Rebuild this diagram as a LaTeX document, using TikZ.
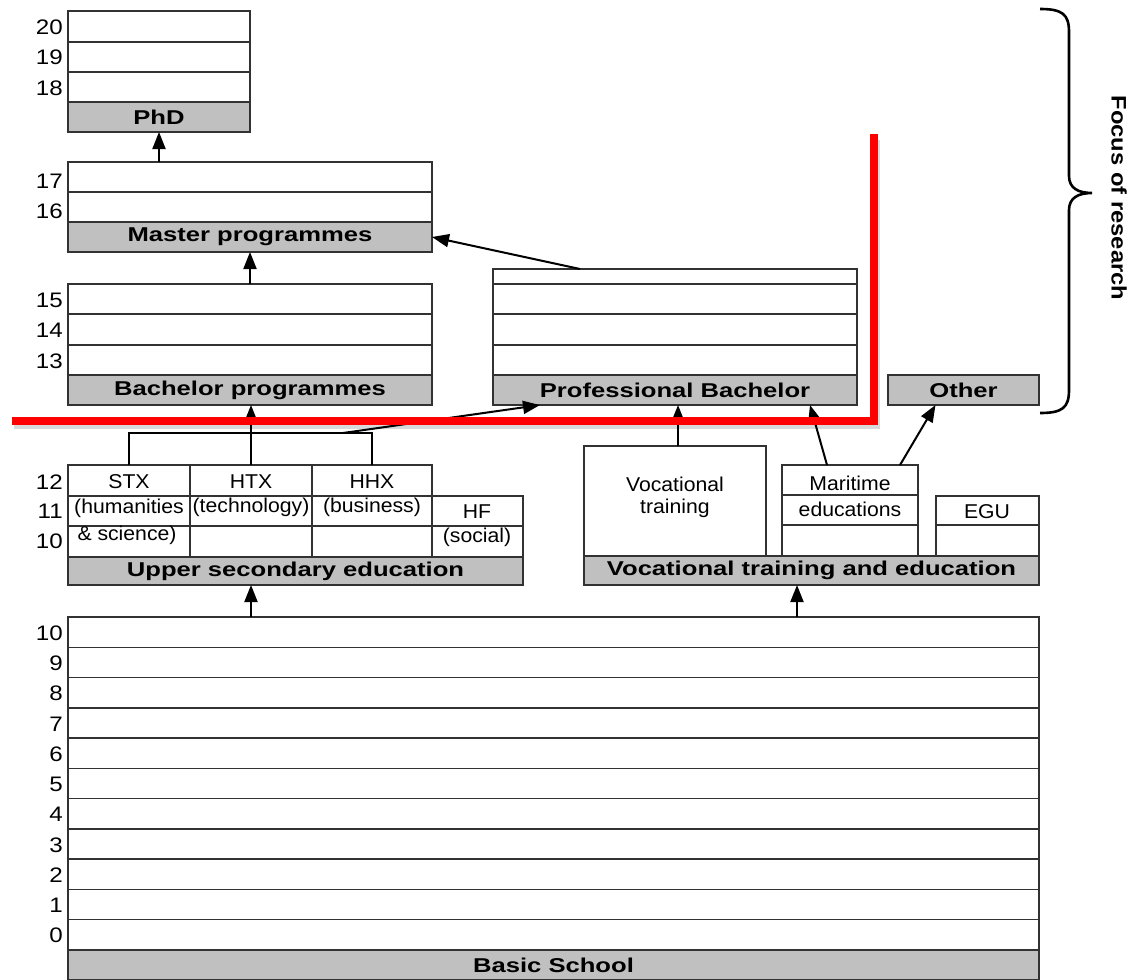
\documentclass[tikz,border=0pt]{standalone}
\usepackage{fontspec}
\setmainfont{Liberation Sans}[FakeStretch=1.06]
\newfontfamily\widebold{Liberation Sans}[FakeStretch=1.28]
\newfontfamily\yearfont{Liberation Sans}[FakeStretch=1.15]
\newfontfamily\focusfont{Liberation Sans}[FakeStretch=1.13]
\usetikzlibrary{arrows.meta}
\definecolor{bandgray}{RGB}{192,192,192}
\definecolor{edge}{RGB}{50,50,50}
\definecolor{focusred}{RGB}{255,0,0}

\tikzset{
  cell/.style={draw=edge, line width=1.4pt, fill=white, inner sep=0pt, outer sep=0pt, anchor=north west},
  band/.style={cell, fill=bandgray, font=\widebold\bfseries\fontsize{20}{22}\selectfont},
  txt/.style={inner sep=0pt, font=\fontsize{20}{22}\selectfont},
  yr/.style={anchor=east, inner sep=0pt, font=\yearfont\fontsize{21}{23}\selectfont},
  link/.style={line width=2pt, draw=black},
  arr/.style={link, -{Triangle[length=17pt,width=13pt]}},
}

% empty cell: name, x, y (top left), width, height
\newcommand\cellbox[5]{\node[cell, minimum width=#4pt, minimum height=#5pt] (#1) at (#2,#3) {};}
% grey title bar: name, x, y, width, height, title
\newcommand\bandbox[6]{\node[band, minimum width=#4pt, minimum height=#5pt] (#1) at (#2,#3) {#6};}

\begin{document}
\begin{tikzpicture}[x=1pt, y=-1pt]
\useasboundingbox (0,0) rectangle (1134,979);

% ---------- PhD ----------
\cellbox{phd3}{68}{11}{182}{31}
\cellbox{phd2}{68}{42}{182}{30}
\cellbox{phd1}{68}{72}{182}{30}
\bandbox{phdband}{68}{102}{182}{30}{PhD}
\node[yr] (y20) at (63,27) {20};
\node[yr] (y19) at (63,57) {19};
\node[yr] (y18) at (63,88) {18};

% ---------- Master ----------
\cellbox{ma2}{68}{162}{364}{30}
\cellbox{ma1}{68}{192}{364}{30}
\bandbox{maband}{68}{222}{364}{30}{Master programmes}
\node[yr] (y17) at (63,181) {17};
\node[yr] (y16) at (63,211) {16};

% ---------- Bachelor ----------
\cellbox{ba3}{68}{284}{364}{30}
\cellbox{ba2}{68}{314}{364}{31}
\cellbox{ba1}{68}{345}{364}{30}
\bandbox{baband}{68}{375}{364}{30}{Bachelor programmes}
\node[yr] (y15) at (63,300) {15};
\node[yr] (y14) at (63,330) {14};
\node[yr] (y13) at (63,361) {13};

% ---------- Professional Bachelor ----------
\cellbox{pb4}{493}{269}{364}{15}
\cellbox{pb3}{493}{284}{364}{30}
\cellbox{pb2}{493}{314}{364}{31}
\cellbox{pb1}{493}{345}{364}{30}
\bandbox{pbband}{493}{375}{364}{30}{Professional Bachelor}

% ---------- Other ----------
\bandbox{other}{888}{375}{151}{30}{Other}

% ---------- Upper secondary ----------
\cellbox{stx3}{68}{465}{122}{31}
\cellbox{stx2}{68}{496}{122}{30}
\cellbox{stx1}{68}{526}{122}{31}
\cellbox{htx3}{190}{465}{122}{31}
\cellbox{htx2}{190}{496}{122}{30}
\cellbox{htx1}{190}{526}{122}{31}
\cellbox{hhx3}{312}{465}{120}{31}
\cellbox{hhx2}{312}{496}{120}{30}
\cellbox{hhx1}{312}{526}{120}{31}
\cellbox{hf2}{432}{496}{91}{30}
\cellbox{hf1}{432}{526}{91}{31}
\bandbox{usband}{68}{557}{455}{28}{Upper secondary education}
\node[txt] (stxname) at (129,482) {STX};
\node[txt] (stxa) at (129,508) {(humanities};
\node[txt] (stxb) at (127,535) {\& science)};
\node[txt] (htxname) at (251,482) {HTX};
\node[txt] (htxa) at (251,507) {(technology)};
\node[txt] (hhxname) at (372,482) {HHX};
\node[txt] (hhxa) at (372,507) {(business)};
\node[txt] (hfname) at (477,512) {HF};
\node[txt] (hfa) at (477,537) {(social)};
\node[yr] (y12) at (63,482) {12};
\node[yr] (y11) at (63,511) {11};
\node[yr] (y10u) at (63,541) {10};

% ---------- Vocational training and education ----------
\cellbox{voc}{584}{446}{182}{110}
\cellbox{mar3}{782}{465}{136}{30}
\cellbox{mar2}{782}{495}{136}{30}
\cellbox{mar1}{782}{525}{136}{31}
\cellbox{egu2}{936}{496}{103}{29}
\cellbox{egu1}{936}{525}{103}{31}
\bandbox{vocband}{584}{556}{455}{29}{Vocational training and education}
\node[txt] (voca) at (675,484) {Vocational};
\node[txt] (vocb) at (675,508) {training};
\node[txt] (mara) at (850,483) {Maritime};
\node[txt] (marb) at (850,509) {educations};
\node[txt] (eguname) at (987,512) {EGU};

% ---------- Basic school ----------
\foreach \i in {0,...,10}{
  \pgfmathsetmacro\top{617+\i*30.27}
  \pgfmathtruncatemacro\grade{10-\i}
  \node[cell, minimum width=971pt, minimum height=30.27pt] (basic\grade) at (68,\top) {};
  \node[yr] (ybasic\grade) at (63,\top+16) {\grade};
}
\bandbox{bsband}{68}{950}{971}{30}{Basic School}

% ---------- Connectors ----------
\coordinate (hub) at (250,433);
\coordinate (split) at (343,433);
\draw[arr] (ma2.north -| phdband.south) -- (phdband.south);
\draw[arr] (ba3.north) -- (maband.south);
\draw[arr] ([xshift=-95pt]pb4.north) -- (maband.east);
\draw[link] (stx3.north) -- (stx3.north |- hub) -- (hhx3.north |- hub) -- (hhx3.north);
\draw[arr] (htx3.north) -- (htx3.north |- baband.south);
\draw[arr] (split) -- ([xshift=-135pt]pbband.south);
\draw[arr] ([xshift=3pt]voc.north) -- ([xshift=3pt]voc.north |- pbband.south);
\draw[arr] ([xshift=-23pt]mar3.north) -- ([xshift=135pt]pbband.south);
\draw[arr] ([xshift=50pt]mar3.north) -- ([xshift=-28pt]other.south);
\draw[arr] (basic10.north -| htx3.north) -- (usband.south -| htx3.north);
\draw[arr] ([xshift=243.5pt]basic10.north) -- ([xshift=243.5pt]basic10.north |- vocband.south);

% ---------- Research boundary ----------
\coordinate (redstart) at (12,421);
\coordinate (redcorner) at (874,421);
\coordinate (redtop) at (874,134);
\draw[line width=8pt, black, opacity=0.15, line join=miter]
  ([shift={(2,4)}]redstart) -- ([shift={(2,4)}]redcorner) -- ([shift={(2,6)}]redtop);
\draw[line width=8pt, focusred, line join=miter] (redstart) -- (redcorner) -- (redtop);

% ---------- Focus brace ----------
\coordinate (bracetop) at (1040,9);
\coordinate (bracetip) at (1092,193);
\coordinate (bracebot) at (1040,413);
\draw[line width=2.6pt, black]
  (bracetop) .. controls (1062,9) and (1069,14) .. (1069,32)
  -- (1069,176) .. controls (1069,188) and (1078,193) .. (bracetip)
  .. controls (1078,193) and (1069,198) .. (1069,210)
  -- (1069,390) .. controls (1069,408) and (1062,413) .. (bracebot);
\node[inner sep=0pt, rotate=-90, font=\focusfont\bfseries\fontsize{21}{23}\selectfont] (focus) at (1119,198) {Focus of research};

\end{tikzpicture}
\end{document}
